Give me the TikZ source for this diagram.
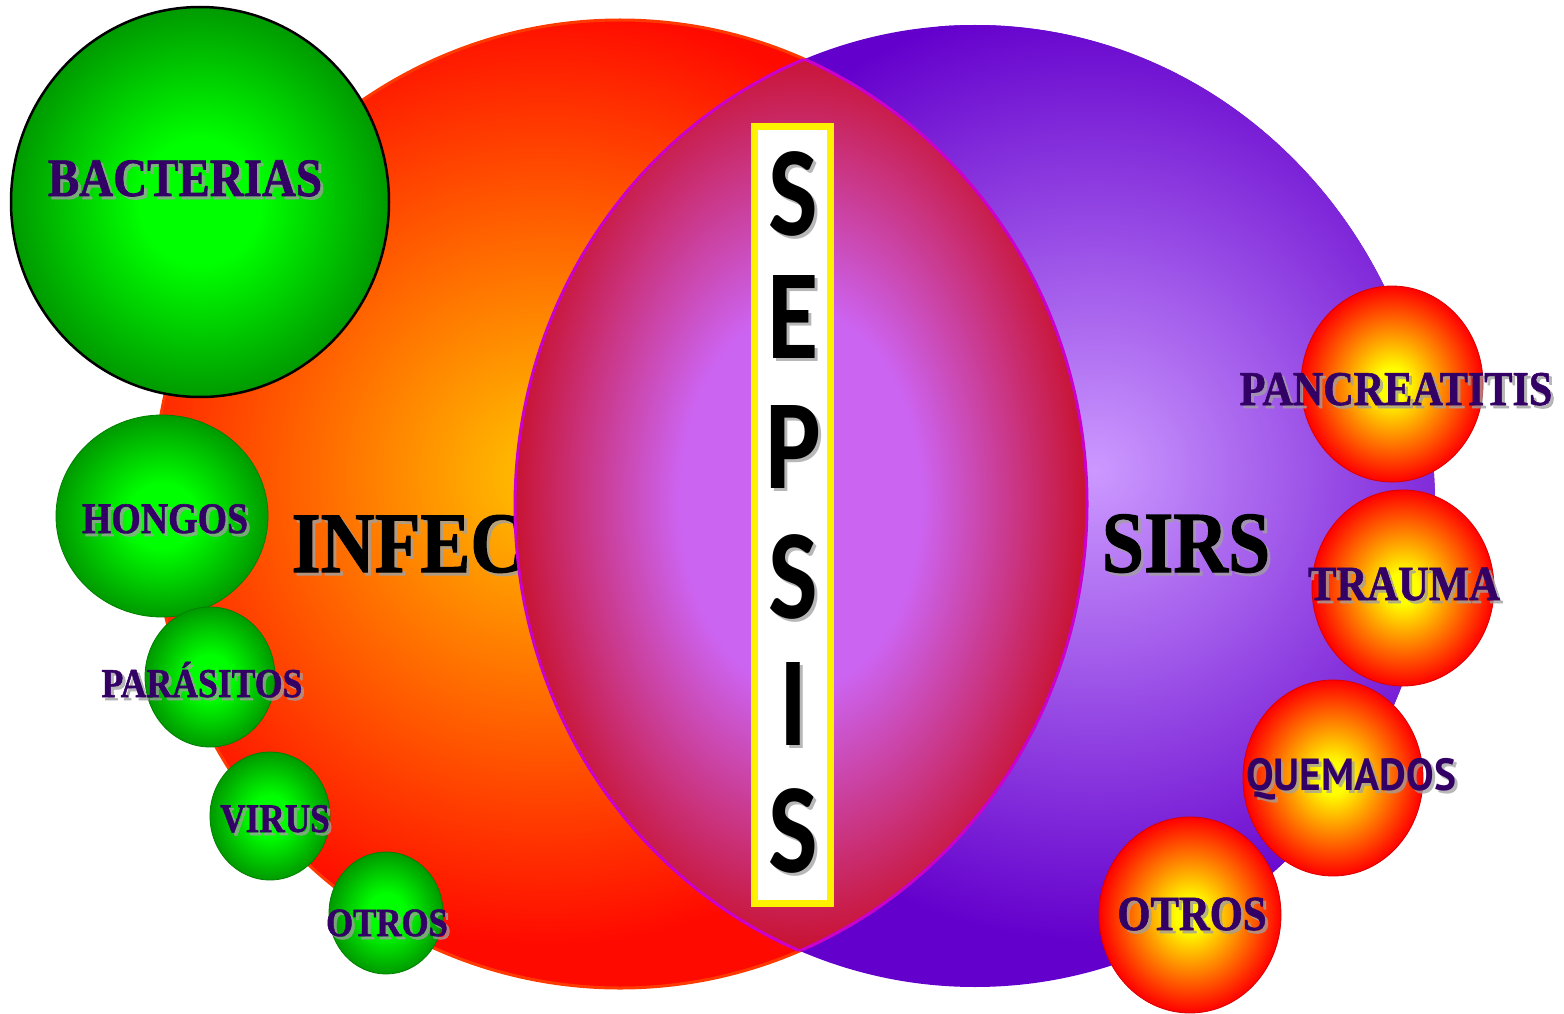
\documentclass[tikz,border=0pt]{standalone}
\usepackage{fontspec}
\setmainfont{Liberation Serif}[BoldFeatures={FakeBold=1.3}]
\newfontfamily\sepfont{Carlito}
\newfontfamily\qfont{PT Sans}
\usetikzlibrary{calc}
\definecolor{lblc}{HTML}{330066}
\definecolor{redin}{HTML}{FFC400}
\definecolor{redout}{HTML}{FF0A00}
\definecolor{redline}{HTML}{FF3A00}
\definecolor{purin}{HTML}{CC99FF}
\definecolor{purout}{HTML}{6400CC}
\definecolor{lensin}{HTML}{CC64F2}
\definecolor{lensout}{HTML}{C80C22}
\definecolor{lensline}{HTML}{CC00CC}
\definecolor{gin}{HTML}{00FF00}
\definecolor{gout}{HTML}{009A00}
\definecolor{gline}{HTML}{008000}
\definecolor{oin}{HTML}{FFFF00}
\definecolor{oout}{HTML}{FF0000}
\definecolor{shadowc}{HTML}{A0A0A0}
\pgfdeclareradialshading{lensshade}{\pgfpoint{0bp}{0bp}}{color(0bp)=(lensin); color(10bp)=(lensin); color(25bp)=(lensout); color(50bp)=(lensout)}
\pgfdeclareradialshading{ballshade}{\pgfpoint{0bp}{0bp}}{color(0bp)=(gin); color(8bp)=(gin); color(25bp)=(gout); color(50bp)=(gout)}
\pgfdeclareradialshading{orangeshade}{\pgfpoint{0bp}{0bp}}{color(0bp)=(oin); color(4bp)=(oin); color(25bp)=(oout); color(50bp)=(oout)}
\tikzset{
  greenball/.style={shading=ballshade, draw=gline, line width=0.8},
  orangeball/.style={shading=orangeshade, draw=red!85!black, line width=0.8},
}
% name, x, y, size, colour, text
\newcommand\lbl[6]{%
  \node[anchor=base, inner sep=0, text=shadowc, opacity=0.75,
        font=\bfseries\fontsize{#4}{#4}\selectfont] (#1s) at (#2+3,#3+3) {\scalebox{0.87}[1]{#6}};
  \node[anchor=base, inner sep=0, text=#5,
        font=\bfseries\fontsize{#4}{#4}\selectfont] (#1) at (#2,#3) {\scalebox{0.87}[1]{#6}};}
\newcommand\qlbl[6]{%
  \node[anchor=base, inner sep=0, text=shadowc, opacity=0.75,
        font=\qfont\bfseries\fontsize{#4}{#4}\selectfont] (#1s) at (#2+3,#3+3) {\scalebox{0.92}[1]{#6}};
  \node[anchor=base, inner sep=0, text=#5,
        font=\qfont\bfseries\fontsize{#4}{#4}\selectfont] (#1) at (#2,#3) {\scalebox{0.92}[1]{#6}};}
\newcommand\seplet[3]{%
  \node[anchor=base, inner sep=0, text=shadowc, opacity=0.75,
        font=\sepfont\bfseries\fontsize{128}{128}\selectfont] (#1s) at (796,#2+3) {\scalebox{0.82}[1]{#3}};
  \node[anchor=base, inner sep=0, text=black,
        font=\sepfont\bfseries\fontsize{128}{128}\selectfont] (#1) at (793,#2) {\scalebox{0.82}[1]{#3}};}
\begin{document}
\begin{tikzpicture}[x=1pt,y=-1pt]
\useasboundingbox (0,0) rectangle (1564,1014);
% infection ellipse
\begin{scope}
  \clip (620,504) ellipse [x radius=467, y radius=484];
  \fill[redout] (100,0) rectangle (1100,1014);
  \shade[inner color=redin, outer color=redout] (545,475) circle (470);
\end{scope}
\draw[redline, line width=3] (620,504) ellipse [x radius=467, y radius=484];
% SIRS ellipse
\begin{scope}
  \clip (975,506) ellipse [x radius=460, y radius=481];
  \fill[purout] (500,0) rectangle (1450,1014);
  \shade[inner color=purin, outer color=purout] (1095,470) circle (470);
\end{scope}
% INFEC text (partly hidden by lens)
\lbl{infec}{408}{572}{86}{black}{INFEC}
% lens
\begin{scope}
  \clip (620,504) ellipse [x radius=467, y radius=484];
  \clip (975,506) ellipse [x radius=460, y radius=481];
  \fill[lensout] (400,0) rectangle (1200,1014);
  \shade[shading=lensshade] (800,500) ellipse [x radius=300, y radius=470];
\end{scope}
\begin{scope}
  \clip (975,506) ellipse [x radius=460, y radius=481];
  \draw[lensline, line width=3] (620,504) ellipse [x radius=467, y radius=484];
\end{scope}
\begin{scope}
  \clip (620,504) ellipse [x radius=467, y radius=484];
  \draw[lensline, line width=3] (975,506) ellipse [x radius=460, y radius=481];
\end{scope}
% SEPSIS box
\draw[yellow, line width=7, fill=white] (754.5,126.5) rectangle (830.5,903.5);
\seplet{s1}{235}{S}
\seplet{s2}{358}{E}
\seplet{s3}{488}{P}
\seplet{s4}{618}{S}
\seplet{s5}{745}{I}
\seplet{s6}{872}{S}
% SIRS text
\lbl{sirs}{1186}{572}{87}{black}{SIRS}
% green balls
\shadedraw[greenball, draw=black, line width=2.5] (200,202) ellipse [x radius=189, y radius=195];
\shadedraw[greenball] (162,516) ellipse [x radius=106, y radius=101];
\shadedraw[greenball] (210,677) ellipse [x radius=65, y radius=70];
\shadedraw[greenball] (270,816) ellipse [x radius=60, y radius=64];
\shadedraw[greenball] (386,913) ellipse [x radius=57, y radius=61];
% orange balls
\shadedraw[orangeball] (1392,384) ellipse [x radius=91, y radius=98];
\shadedraw[orangeball] (1403,588) ellipse [x radius=91, y radius=98];
\shadedraw[orangeball] (1333,778) ellipse [x radius=90, y radius=98];
\shadedraw[orangeball] (1190,915) ellipse [x radius=91, y radius=98];
% labels
\lbl{bact}{185}{196}{54}{lblc}{BACTERIAS}
\lbl{hong}{165}{533}{43.5}{lblc}{HONGOS}
\lbl{para}{202}{697}{41}{lblc}{PARÁSITOS}
\lbl{viru}{275}{832}{40.5}{lblc}{VIRUS}
\lbl{otrg}{387}{936}{40}{lblc}{OTROS}
\lbl{panc}{1396}{405}{48.5}{lblc}{PANCREATITIS}
\lbl{trau}{1404}{600}{49}{lblc}{TRAUMA}
\qlbl{quem}{1351}{790}{45}{lblc}{QUEMADOS}
\lbl{otro}{1192}{930}{49}{lblc}{OTROS}
\end{tikzpicture}
\end{document}
